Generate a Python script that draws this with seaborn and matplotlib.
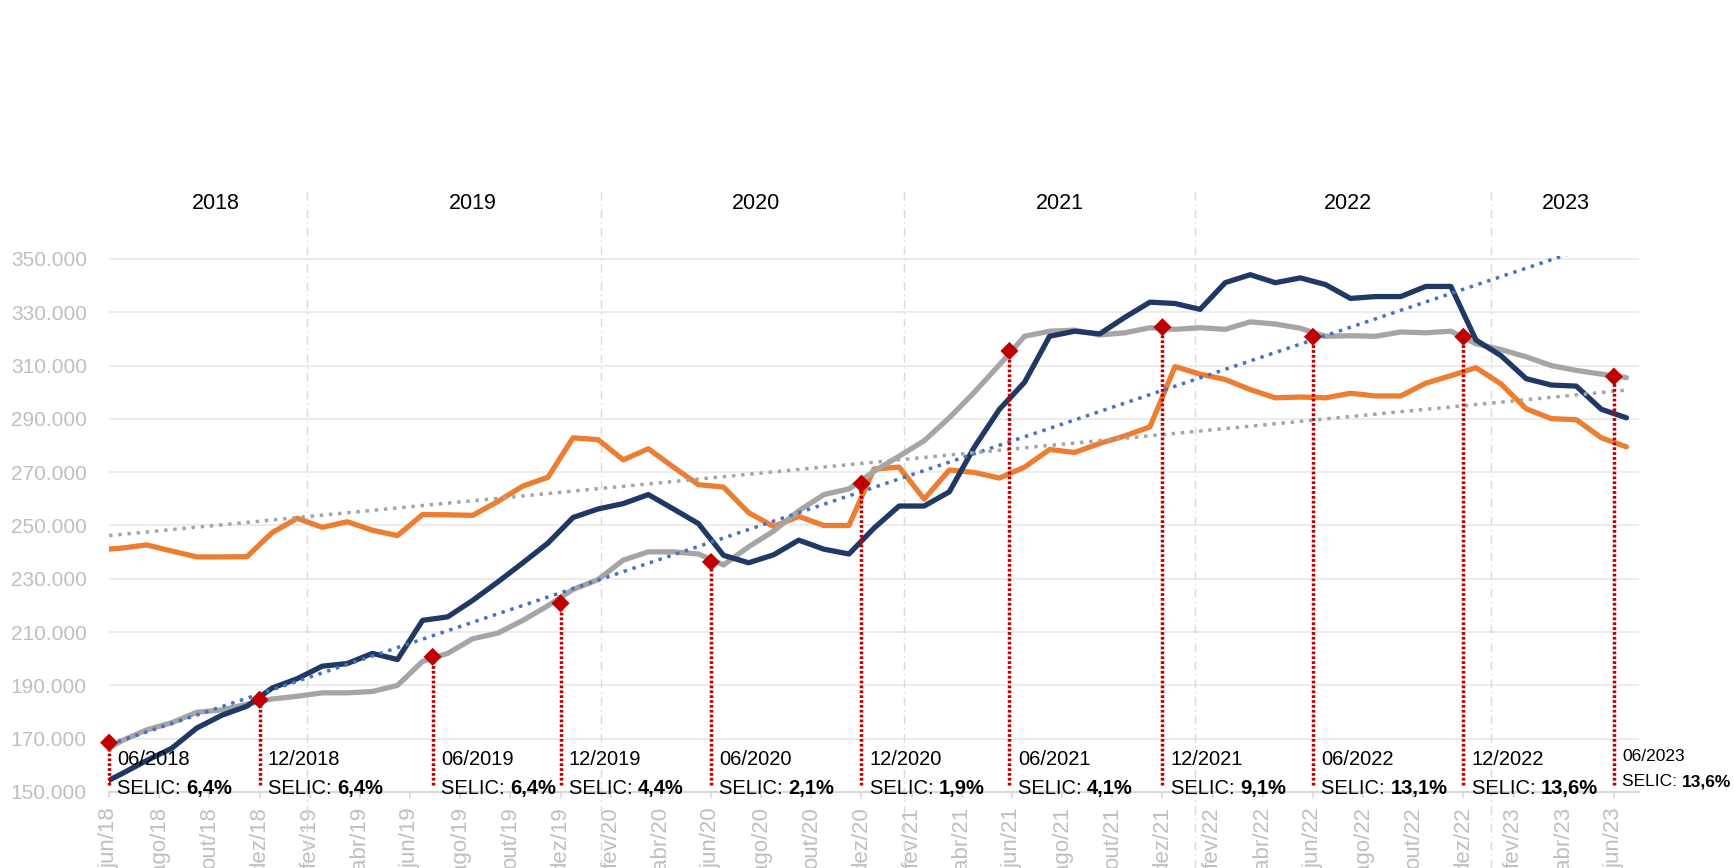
import numpy as np
import pandas as pd
import matplotlib
matplotlib.use('Agg')
import matplotlib.pyplot as plt
import seaborn as sns

# séries mensais (mil) de mai/18 a jun/23 - mai/18 fica cortado na borda do eixo
azul = [152.0, 156.8, 161.8, 166.4, 174.0, 178.8, 182.2, 189.0, 192.5, 197.2, 198.2, 202.0, 199.7,
        214.4, 215.7, 221.9, 228.8, 236.0, 243.4, 253.0, 256.2, 258.2, 261.6, 256.2, 250.7, 238.8,
        236.0, 239.0, 244.5, 241.1, 239.3, 249.0, 257.3, 257.3, 262.6, 279.4, 293.6, 303.7, 321.0,
        322.9, 321.9, 328.1, 333.8, 333.3, 331.1, 341.1, 344.1, 341.1, 342.9, 340.4, 335.2, 335.9,
        335.9, 339.7, 339.7, 319.6, 313.7, 305.1, 302.7, 302.3, 293.6, 290.4]
cinza = [163.6, 169.2, 173.3, 176.0, 179.9, 180.8, 182.9, 184.9, 185.9, 187.2, 187.2, 187.7, 190.0,
         199.0, 202.0, 207.5, 209.6, 214.4, 219.9, 226.0, 229.7, 237.0, 240.1, 240.1, 239.3, 235.2,
         242.0, 247.9, 255.5, 261.6, 263.7, 270.3, 276.0, 281.8, 290.4, 300.0, 310.3, 321.0, 322.9,
         323.3, 321.5, 322.3, 324.2, 323.6, 324.2, 323.6, 326.4, 325.6, 324.0, 321.0, 321.2, 321.0,
         322.6, 322.3, 322.9, 318.2, 316.0, 313.3, 310.0, 308.2, 306.8, 305.5]
laranja = [240.8, 241.5, 242.7, 240.4, 238.2, 238.2, 238.3, 247.3, 252.7, 249.3, 251.4, 248.2, 246.2,
           254.1, 254.0, 253.8, 259.0, 264.8, 268.1, 282.9, 282.2, 274.6, 278.8, 271.9, 265.3, 264.4,
           254.8, 249.6, 253.4, 250.0, 250.0, 271.2, 271.9, 259.9, 270.8, 269.9, 267.8, 271.9, 278.5,
           277.4, 280.8, 283.6, 287.0, 309.6, 306.8, 304.8, 301.0, 297.9, 298.2, 297.9, 299.6, 298.6,
           298.6, 303.4, 306.2, 309.2, 303.1, 293.8, 290.1, 289.7, 282.9, 279.5]

rotulos_x = ['jun/18', 'ago/18', 'out/18', 'dez/18', 'fev/19', 'abr/19', 'jun/19', 'ago/19',
             'out/19', 'dez/19', 'fev/20', 'abr/20', 'jun/20', 'ago/20', 'out/20', 'dez/20',
             'fev/21', 'abr/21', 'jun/21', 'ago/21', 'out/21', 'dez/21', 'fev/22', 'abr/22',
             'jun/22', 'ago/22', 'out/22', 'dez/22', 'fev/23', 'abr/23', 'jun/23']

# linhas de tendência (valor no início do eixo e no último mês)
tend_azul = [167.8, 359.2]
tend_cinza = [246.2, 300.8]

# marcos da SELIC
selic_datas = ['06/2018', '12/2018', '06/2019', '12/2019', '06/2020', '12/2020',
               '06/2021', '12/2021', '06/2022', '12/2022', '06/2023']
selic_taxas = ['6,4%', '6,4%', '6,4%', '4,4%', '2,1%', '1,9%', '4,1%', '9,1%', '13,1%', '13,6%', '13,6%']
selic_mes = [0, 6, 12.9, 18, 24, 30, 35.9, 42, 48, 54, 60]
selic_valor = [168.5, 184.6, 200.7, 220.8, 236.3, 265.7, 315.5, 324.4, 320.8, 320.8, 305.9]

anos = ['2018', '2019', '2020', '2021', '2022', '2023']
anos_mes = [4.25, 14.5, 25.8, 37.9, 49.4, 58.1]
divisa_anos = [7.9, 19.6, 31.7, 43.3, 55.1]

# pontos no meio de cada mês (eixo de datas)
meio_mes = np.arange(len(azul)) - 0.5
df = pd.DataFrame({
    'mes': np.tile(meio_mes, 3),
    'valor': np.array(laranja + cinza + azul) * 1000,
    'serie': ['laranja'] * len(laranja) + ['cinza'] * len(cinza) + ['azul'] * len(azul),
})

sns.set_theme(style='white')
plt.rcParams['font.family'] = ['Liberation Sans', 'DejaVu Sans']

fig = plt.figure(figsize=(17.34, 8.68), dpi=100)
ax = fig.add_axes([0.0629, 0.0876, 0.8823, 0.6171])

cores = {'laranja': '#ed7d31', 'cinza': '#a5a5a5', 'azul': '#203864'}
sns.lineplot(data=df, x='mes', y='valor', hue='serie', hue_order=['laranja', 'cinza', 'azul'],
             palette=cores, linewidth=3.8, legend=False, sort=False, ax=ax)

# tendências pontilhadas
x_tend = [0, meio_mes[-1]]
ax.plot(x_tend, np.array(tend_azul) * 1000, color='#4472c4', lw=2.5, ls=':', zorder=3)
ax.plot(x_tend, np.array(tend_cinza) * 1000, color='#a5a5a5', lw=2.5, ls=':', zorder=3)

# marcos SELIC: linha vermelha + losango
ax.vlines(selic_mes, 152500, np.array(selic_valor) * 1000, colors='#c00000',
          linestyles=(0, (0.8, 0.6)), lw=2.5, zorder=4, clip_on=False)
sns.scatterplot(x=selic_mes, y=np.array(selic_valor) * 1000, marker='D', s=85, color='#c00000',
                edgecolor='none', zorder=5, clip_on=False, ax=ax)

for i, (m, d, tx) in enumerate(zip(selic_mes, selic_datas, selic_taxas)):
    ultimo = i == len(selic_datas) - 1
    tam = 12.5 if ultimo else 14.5
    y_d, y_s = (163300, 153800) if ultimo else (162100, 151300)
    ax.annotate(d, xy=(m, y_d), xytext=(6, 0), textcoords='offset points',
                va='center', ha='left', fontsize=tam, color='black', zorder=6)
    t = ax.annotate('SELIC: ', xy=(m, y_s), xytext=(6, 0), textcoords='offset points',
                    va='center', ha='left', fontsize=tam, color='black', zorder=6)
    ax.annotate(tx, xy=(1, 0), xycoords=t, va='bottom', ha='left', fontsize=tam,
                fontweight='bold', color='black', zorder=6)

# anos no topo e divisões
for d in divisa_anos:
    ax.axvline(d, ymin=-0.142, ymax=1.122, color='#d9d9d9', lw=1,
               ls=(0, (6, 3, 1, 3)), clip_on=False, zorder=1)
for a, m in zip(anos, anos_mes):
    ax.text(m, 1.099, a, transform=ax.get_xaxis_transform(), ha='center', va='center',
            fontsize=15.5, color='black')

ax.set_xlim(0, 61)
ax.set_ylim(150000, 351000)
ax.set_xticks(np.arange(0, 61, 2))
ax.set_xticklabels(rotulos_x, rotation=90, ha='center', va='top')
yt = np.arange(150000, 350001, 20000)
ax.set_yticks(yt)
ax.set_yticklabels([f'{v:,.0f}'.replace(',', '.') for v in yt])
ax.set_xlabel('')
ax.set_ylabel('')

ax.tick_params(axis='y', length=0, pad=16, labelsize=15, labelcolor='#bfbfbf')
ax.tick_params(axis='x', length=4, width=1.2, color='#d9d9d9', pad=7, labelsize=16,
               labelcolor='#bfbfbf', direction='out', bottom=True)

for s in ['left', 'right', 'top']:
    ax.spines[s].set_visible(False)
ax.spines['bottom'].set_color('#d9d9d9')
ax.spines['bottom'].set_linewidth(1.5)
ax.yaxis.grid(True, color='#ececec', lw=1.5)
ax.xaxis.grid(False)
ax.set_axisbelow(True)

fig.savefig('out.png', dpi=100)
